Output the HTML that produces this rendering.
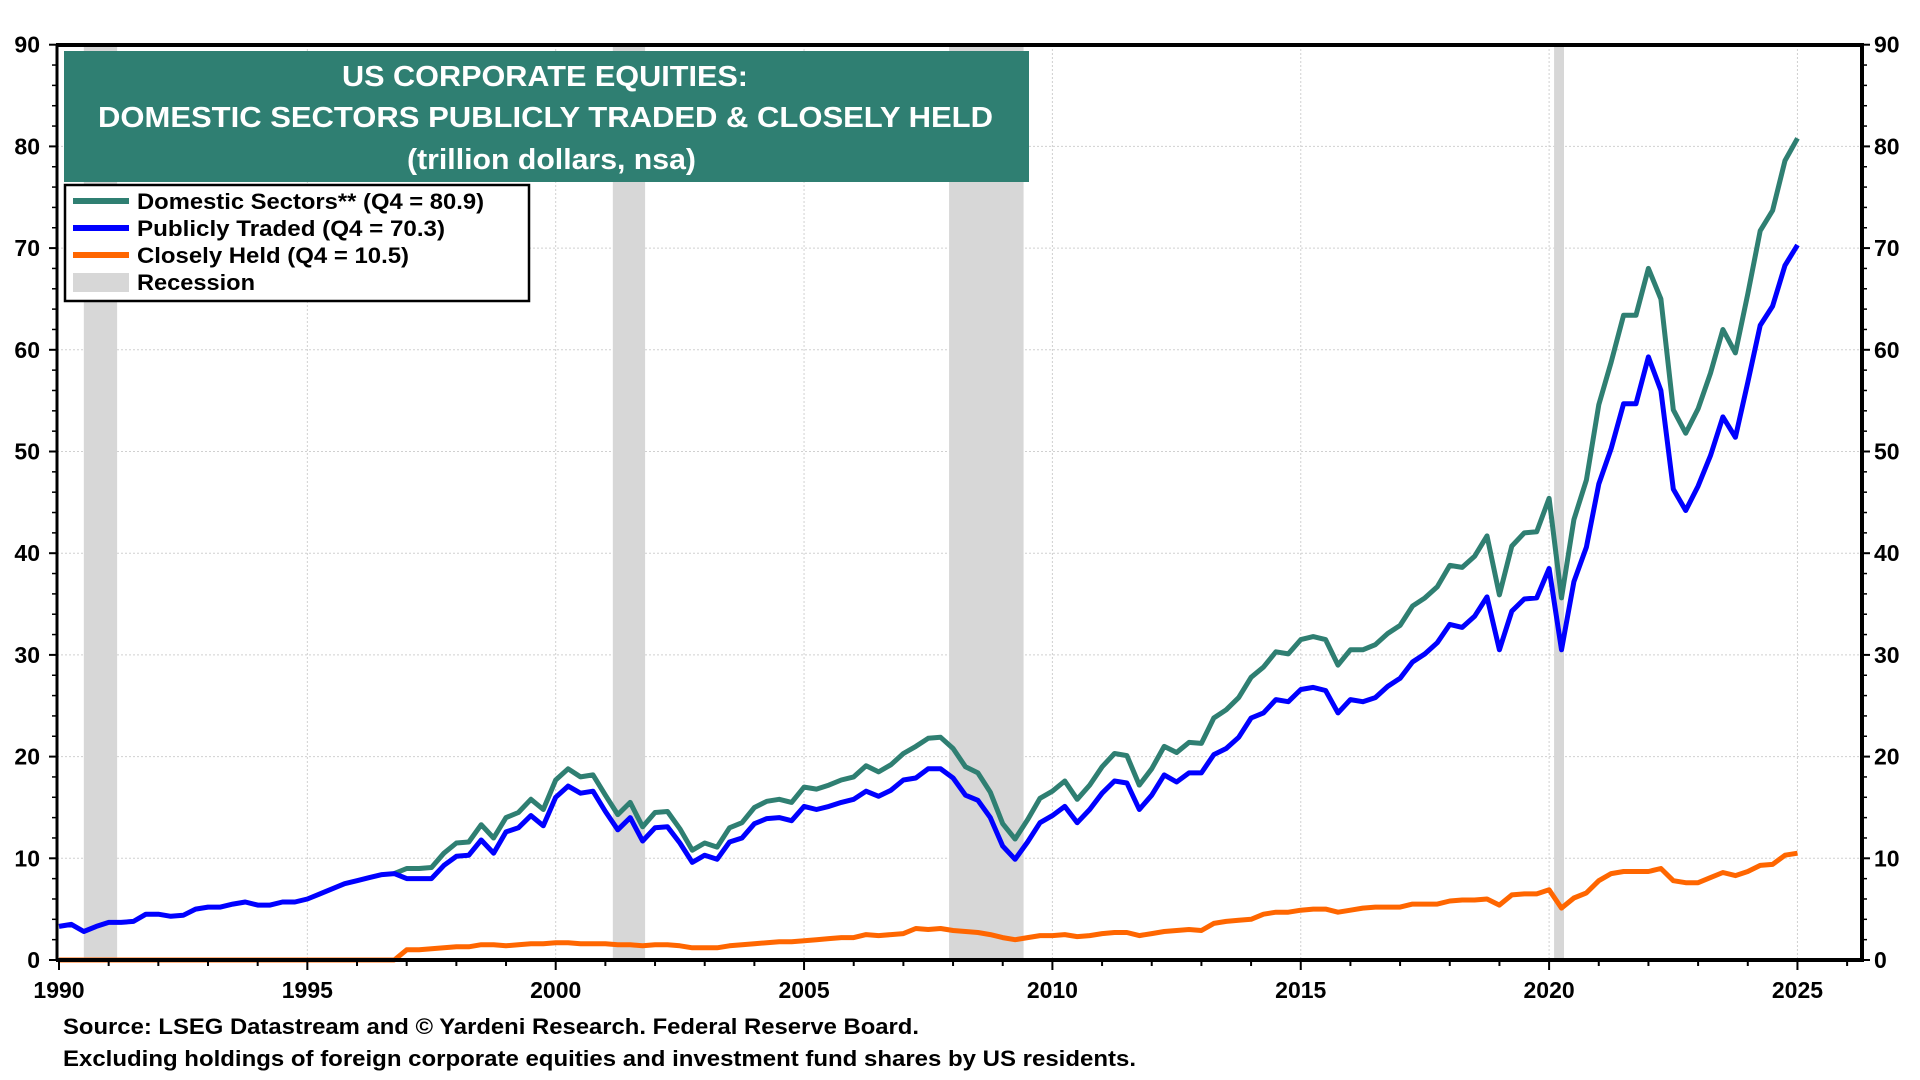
<!DOCTYPE html>
<html><head><meta charset="utf-8"><style>
html,body{margin:0;padding:0;background:#fff;}
svg{display:block;font-family:"Liberation Sans",Arial,sans-serif;font-weight:bold;}
</style></head><body>
<svg id="chart" width="1920" height="1080" viewBox="0 0 1920 1080" xmlns="http://www.w3.org/2000/svg">
<g id="grid"></g>
<g id="recessions"></g>
<g id="series"></g>
<g id="axes"></g>
<g>
<rect x="64" y="51" width="965" height="131" fill="#2f7f72"/>
<text x="342" y="86" font-size="29" fill="#fff" textLength="406" lengthAdjust="spacingAndGlyphs">US CORPORATE EQUITIES:</text>
<text x="98" y="127" font-size="29" fill="#fff" textLength="895" lengthAdjust="spacingAndGlyphs">DOMESTIC SECTORS PUBLICLY TRADED &amp; CLOSELY HELD</text>
<text x="407" y="169" font-size="29" fill="#fff" textLength="289" lengthAdjust="spacingAndGlyphs">(trillion dollars, nsa)</text>
</g>
<g>
<rect x="65" y="185" width="464" height="116" fill="#fff" stroke="#000" stroke-width="2.5"/>
<line x1="73" y1="201" x2="129" y2="201" stroke="#2f7f72" stroke-width="6"/>
<text x="137" y="209" font-size="22" textLength="347" lengthAdjust="spacingAndGlyphs">Domestic Sectors** (Q4 = 80.9)</text>
<line x1="73" y1="228" x2="129" y2="228" stroke="#0000ff" stroke-width="6"/>
<text x="137" y="236" font-size="22" textLength="308" lengthAdjust="spacingAndGlyphs">Publicly Traded (Q4 = 70.3)</text>
<line x1="73" y1="255" x2="129" y2="255" stroke="#ff6600" stroke-width="6"/>
<text x="137" y="263" font-size="22" textLength="272" lengthAdjust="spacingAndGlyphs">Closely Held (Q4 = 10.5)</text>
<rect x="73" y="273" width="56" height="19" fill="#d7d7d7"/>
<text x="137" y="290" font-size="22" textLength="118" lengthAdjust="spacingAndGlyphs">Recession</text>
</g>
<text x="63" y="1034" font-size="22" textLength="856" lengthAdjust="spacingAndGlyphs">Source: LSEG Datastream and © Yardeni Research. Federal Reserve Board.</text>
<text x="63" y="1066" font-size="22" textLength="1073" lengthAdjust="spacingAndGlyphs">Excluding holdings of foreign corporate equities and investment fund shares by US residents.</text>
</svg>
<script>
const pubStart = 1990.0;
const pubValues = [3.3,3.5,2.8,3.3,3.7,3.7,3.8,4.5,4.5,4.3,4.4,5.0,5.2,5.2,5.5,5.7,5.4,5.4,5.7,5.7,6.0,6.5,7.0,7.5,7.8,8.1,8.4,8.5,
8.0,8.0,8.0,9.3,10.2,10.3,11.8,10.5,12.6,13.0,14.2,13.2,16.0,17.1,16.4,16.6,14.6,12.8,14.0,11.7,13.0,13.1,11.5,9.6,10.3,9.9,11.6,12.0,
13.4,13.9,14.0,13.7,15.1,14.8,15.1,15.5,15.8,16.6,16.1,16.7,17.7,17.9,18.8,18.8,17.9,16.2,15.7,14.0,11.2,9.9,11.6,13.5,
14.2,15.1,13.5,14.8,16.4,17.6,17.4,14.8,16.2,18.2,17.5,18.4,18.4,20.2,20.8,21.9,23.8,24.3,25.6,25.4,26.6,26.8,26.5,24.3,
25.6,25.4,25.8,26.9,27.7,29.3,30.1,31.2,33.0,32.7,33.8,35.7,30.5,34.3,35.5,35.6,38.5,30.5,37.2,40.6,46.8,50.3,54.7,54.7,
59.3,56.0,46.3,44.2,46.6,49.6,53.4,51.4,56.8,62.4,64.3,68.3,70.3];
const domStart = 1996.75;
const domValues = [8.5,9.0,9.0,9.1,10.5,11.5,11.6,13.3,12.0,14.0,14.5,15.8,14.8,17.7,18.8,18.0,18.2,16.2,14.3,15.5,13.1,14.5,14.6,12.9,10.8,
11.5,11.1,13.0,13.5,15.0,15.6,15.8,15.5,17.0,16.8,17.2,17.7,18.0,19.1,18.5,19.2,20.3,21.0,21.8,21.9,20.8,19.0,18.4,16.5,13.4,11.9,13.8,15.9,
16.6,17.6,15.8,17.2,19.0,20.3,20.1,17.2,18.8,21.0,20.4,21.4,21.3,23.8,24.6,25.8,27.8,28.8,30.3,30.1,31.5,31.8,31.5,29.0,
30.5,30.5,31.0,32.1,32.9,34.8,35.6,36.7,38.8,38.6,39.7,41.7,35.9,40.7,42.0,42.1,45.4,35.6,43.3,47.2,54.6,58.8,63.4,63.4,
68.0,65.0,54.1,51.8,54.2,57.7,62.0,59.7,65.5,71.7,73.7,78.6,80.8];
const closeStart = 1990.0;
const closeValues = [0,0,0,0,0,0,0,0,0,0,0,0,0,0,0,0,0,0,0,0,0,0,0,0,0,0,0,0,
1.0,1.0,1.1,1.2,1.3,1.3,1.5,1.5,1.4,1.5,1.6,1.6,1.7,1.7,1.6,1.6,1.6,1.5,1.5,1.4,1.5,1.5,1.4,1.2,1.2,1.2,1.4,1.5,
1.6,1.7,1.8,1.8,1.9,2.0,2.1,2.2,2.2,2.5,2.4,2.5,2.6,3.1,3.0,3.1,2.9,2.8,2.7,2.5,2.2,2.0,2.2,2.4,
2.4,2.5,2.3,2.4,2.6,2.7,2.7,2.4,2.6,2.8,2.9,3.0,2.9,3.6,3.8,3.9,4.0,4.5,4.7,4.7,4.9,5.0,5.0,4.7,
4.9,5.1,5.2,5.2,5.2,5.5,5.5,5.5,5.8,5.9,5.9,6.0,5.4,6.4,6.5,6.5,6.9,5.1,6.1,6.6,7.8,8.5,8.7,8.7,
8.7,9.0,7.8,7.6,7.6,8.1,8.6,8.3,8.7,9.3,9.4,10.3,10.5];
const recessionStarts = [1990.5, 2001.15, 2007.92, 2020.1];
const recessionEnds = [1991.17, 2001.8, 2009.42, 2020.3];
const yTicks = [0,10,20,30,40,50,60,70,80,90];
const xTicks = [1990,1995,2000,2005,2010,2015,2020,2025];

const NS = 'http://www.w3.org/2000/svg';
const X0 = 59, PXY = 49.67, XL = 57, XR = 1862;
const Y0 = 960, PXV = 10.17, YT = 45;
const xs = t => X0 + (t - 1990) * PXY;
const ys = v => Y0 - v * PXV;
function mk(tag, attrs, parent) {
  const e = document.createElementNS(NS, tag);
  for (const k in attrs) e.setAttribute(k, attrs[k]);
  parent.appendChild(e);
  return e;
}
const grid = document.getElementById('grid');
const axes = document.getElementById('axes');
const rec = document.getElementById('recessions');
const ser = document.getElementById('series');

yTicks.forEach(v => {
  if (v > 0 && v < 90) {
    const g = mk('line', {x1: XL, x2: XR, y1: ys(v), y2: ys(v), stroke: '#d0d0d0', 'stroke-width': 1, 'stroke-dasharray': '2,2'}, grid);
    
    
  }
  const l = mk('text', {x: 40, y: ys(v) + 8, 'font-size': 23, 'text-anchor': 'end'}, axes);
  l.textContent = v;
  
  
  const r = mk('text', {x: 1874, y: ys(v) + 8, 'font-size': 23}, axes);
  r.textContent = v;
  
  
  mk('line', {x1: XL - 8, x2: XL, y1: ys(v), y2: ys(v), stroke: '#000', 'stroke-width': 2}, axes);
  mk('line', {x1: XR, x2: XR + 8, y1: ys(v), y2: ys(v), stroke: '#000', 'stroke-width': 2}, axes);
});
for (let v = 2; v < 90; v += 2) {
  if (v % 10 === 0) continue;
  mk('line', {x1: XL - 5, x2: XL, y1: ys(v), y2: ys(v), stroke: '#000', 'stroke-width': 1.5}, axes);
  mk('line', {x1: XR, x2: XR + 5, y1: ys(v), y2: ys(v), stroke: '#000', 'stroke-width': 1.5}, axes);
}
xTicks.forEach(t => {
  if (t > 1990) {
    const g = mk('line', {x1: xs(t), x2: xs(t), y1: YT, y2: Y0, stroke: '#d0d0d0', 'stroke-width': 1, 'stroke-dasharray': '2,2'}, grid);
    
    
  }
  const l = mk('text', {x: xs(t), y: 998, 'font-size': 23, 'text-anchor': 'middle'}, axes);
  l.textContent = t;
  
  
});
for (let t = 1990; t <= 2026; t++) {
  mk('line', {x1: xs(t), x2: xs(t), y1: Y0, y2: Y0 + (t % 5 === 0 ? 10 : 6), stroke: '#000', 'stroke-width': 2}, axes);
}
recessionStarts.forEach((s, i) => {
  const r = mk('rect', {x: xs(s), y: YT, width: xs(recessionEnds[i]) - xs(s), height: Y0 - YT, fill: '#d7d7d7'}, rec);
  
  
});
function line(start, vals, color, name) {
  const pts = vals.map((v, i) => xs(start + i * 0.25).toFixed(1) + ',' + ys(v).toFixed(1)).join(' ');
  const p = mk('polyline', {points: pts, fill: 'none', stroke: color, 'stroke-width': 5, 'stroke-linejoin': 'round'}, ser);
  
  
}
line(closeStart, closeValues, '#ff6600', 'closely-held-line');
line(domStart, domValues, '#2f7f72', 'domestic-sectors-line');
line(pubStart, pubValues, '#0000ff', 'publicly-traded-line');
mk('line', {x1: XL, x2: XL, y1: YT, y2: Y0, stroke: '#000', 'stroke-width': 3}, axes);
mk('line', {x1: XR, x2: XR, y1: YT, y2: Y0 + 1, stroke: '#000', 'stroke-width': 4}, axes);
mk('line', {x1: XL - 1, x2: XR + 2, y1: YT, y2: YT, stroke: '#000', 'stroke-width': 4}, axes);
mk('line', {x1: XL - 1, x2: XR + 2, y1: Y0, y2: Y0, stroke: '#000', 'stroke-width': 4}, axes);
</script>
</body></html>
